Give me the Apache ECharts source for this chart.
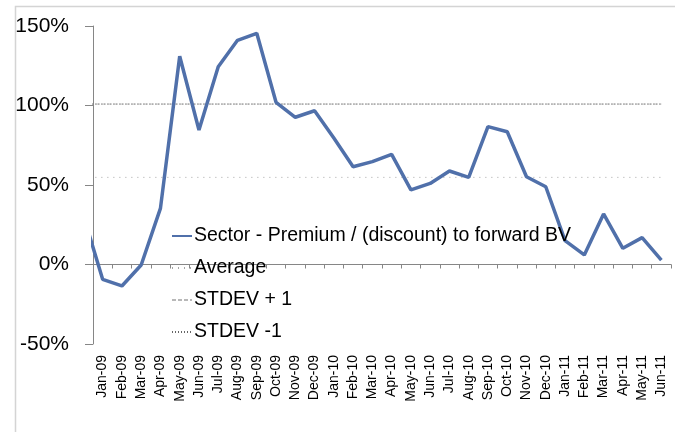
<!DOCTYPE html>
<html>
<head>
<meta charset="utf-8">
<script src="https://cdn.jsdelivr.net/npm/echarts@6/dist/echarts.min.js"></script>
<style>
html, body { margin: 0; padding: 0; background: #fff; }
#main { width: 675px; height: 432px; }
</style>
</head>
<body>
<div id="main"></div>
<script>
// categories (Dec-08 sits just left of the axis, only its segment shows)
var months = ['Dec-08','Jan-09','Feb-09','Mar-09','Apr-09','May-09','Jun-09','Jul-09','Aug-09','Sep-09','Oct-09','Nov-09','Dec-09',
  'Jan-10','Feb-10','Mar-10','Apr-10','May-10','Jun-10','Jul-10','Aug-10','Sep-10','Oct-10','Nov-10','Dec-10',
  'Jan-11','Feb-11','Mar-11','Apr-11','May-11','Jun-11'];
// premium / (discount), %
var premium = [31, -9.3, -13.5, -0.3, 35.3, 131, 84.6, 124.4, 141, 145.4, 102, 92.6, 96.7,
  79.5, 61.5, 64.7, 69.3, 46.9, 51, 58.8, 54.8, 86.7, 83.5, 55.2, 48.9,
  15, 6, 31.8, 10.2, 16.9, 2.8];
var averageVal = 54.8;
var stdevPlus = 100.9;
var stdevMinus = 100.9;
var yTicks = [-50, 0, 50, 100, 150];

function flat(v) { return months.map(function () { return v; }); }

var myChart = echarts.init(document.getElementById('main'));
var font = 'Liberation Sans';

var option = {
  animation: false,
  textStyle: { fontFamily: font },
  graphic: [{
    type: 'rect', left: 13, top: 4, silent: true,
    shape: { width: 700, height: 500 },
    style: { fill: 'none', stroke: '#d4d4d4', lineWidth: 1.5 }
  }],
  grid: { left: 93, right: 4, top: 26, bottom: 88 },
  legend: {
    orient: 'vertical',
    left: 171, top: 226, padding: 0,
    itemWidth: 20, itemHeight: 14, itemGap: 12,
    itemStyle: { opacity: 0 },
    textStyle: { fontFamily: font, fontSize: 19.5, lineHeight: 20, color: '#000', padding: [0, 0, 0, -3] },
    data: ['Sector - Premium / (discount) to forward BV', 'Average', 'STDEV + 1', 'STDEV -1']
  },
  xAxis: [{
    type: 'category',
    data: months,
    min: 1,
    boundaryGap: true,
    axisLine: { show: false, onZero: false },
    axisTick: { show: false },
    axisLabel: { interval: 0, rotate: 90, margin: 11, fontSize: 14, color: '#000', fontFamily: font }
  }, {
    type: 'category',
    data: months,
    min: 1,
    boundaryGap: true,
    position: 'bottom',
    axisLine: { show: true, onZero: true, onZeroAxisIndex: 0, lineStyle: { color: '#868686', width: 1 } },
    axisTick: { show: true, interval: 0, length: 4, lineStyle: { color: '#868686' } },
    axisLabel: { show: false }
  }],
  yAxis: {
    type: 'value',
    min: yTicks[0], max: yTicks[yTicks.length - 1], interval: 50,
    axisLine: { show: true, lineStyle: { color: '#868686' } },
    axisTick: { show: true, length: 8, lineStyle: { color: '#868686' } },
    splitLine: { show: false },
    axisLabel: { formatter: '{value}%', fontSize: 21, color: '#000', margin: 24, fontFamily: font }
  },
  series: [{
    name: 'STDEV + 1', type: 'line', data: flat(stdevPlus), symbol: 'none', silent: true,
    itemStyle: { color: '#b8b8b8' },
    lineStyle: { color: '#b8b8b8', width: 1, type: [4, 2] }
  }, {
    name: 'STDEV -1', type: 'line', data: flat(stdevMinus), symbol: 'none', silent: true,
    itemStyle: { color: '#666' },
    lineStyle: { color: '#666', width: 1, type: [1, 2] }
  }, {
    name: 'Average', type: 'line', data: flat(averageVal), symbol: 'none', silent: true,
    itemStyle: { color: '#a6a6a6' },
    lineStyle: { color: '#a6a6a6', width: 1, type: [1, 5] }
  }, {
    name: 'Sector - Premium / (discount) to forward BV', type: 'line', data: premium,
    symbol: 'none', silent: true, clip: true,
    itemStyle: { color: '#5070aa' },
    lineStyle: { color: '#5070aa', width: 3.5 }
  }]
};

myChart.setOption(option);
</script>
</body>
</html>
